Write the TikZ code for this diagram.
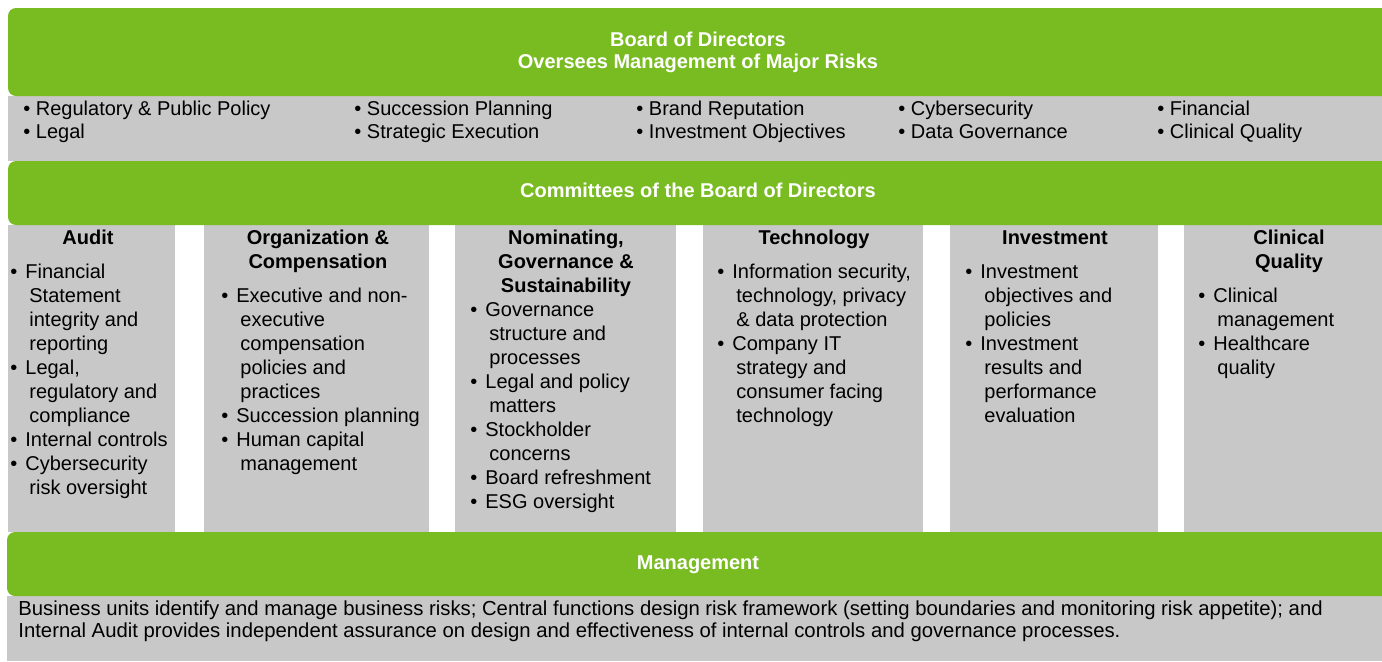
\documentclass[tikz,border=0pt]{standalone}
\usepackage{fontspec}
\setmainfont{Liberation Sans}

\definecolor{boardgreen}{RGB}{121,188,34}
\definecolor{panelgrey}{RGB}{200,200,200}

\newcommand{\bul}{\makebox[7.5pt][l]{•}}
\newcommand{\cont}{\hspace*{9.5pt}}

\begin{document}
\begin{tikzpicture}[x=0.5pt, y=-0.5pt,
    band/.style={fill=boardgreen, rounded corners=4pt},
    panel/.style={fill=panelgrey},
    title/.style={text=white, font=\bfseries\fontsize{10}{11}\selectfont, align=center, anchor=base, inner sep=0pt},
    head/.style={font=\bfseries\fontsize{10}{12}\selectfont, align=center, anchor=base, inner sep=0pt},
    items/.style={font=\fontsize{10}{12}\selectfont, align=left, anchor=base west, inner sep=0pt}]
  \useasboundingbox (0,0) rectangle (1382,661);
  \clip (0,0) rectangle (1382,661);

  % grey panels
  \fill[panel] (8,96) rectangle (1382,161);
  \fill[panel] (8,225) rectangle (175,532);
  \fill[panel] (204,225) rectangle (429,532);
  \fill[panel] (455,225) rectangle (676,532);
  \fill[panel] (703,225) rectangle (923,532);
  \fill[panel] (950,225) rectangle (1158,532);
  \fill[panel] (1184,225) rectangle (1382,532);
  \fill[panel] (7,596) rectangle (1382,661);

  % green bands
  \fill[band] (8,8) rectangle (1400,96);
  \fill[band] (8,161) rectangle (1400,225);
  \fill[band] (7,532) rectangle (1400,596);

  % multi-line nodes sit on the baseline of their last line
  \node[title] (board) at (698,68) {Board of Directors\\Oversees Management of Major Risks};
  \node[title] (cmte) at (698,197) {Committees of the Board of Directors};
  \node[title] (mgmt) at (698,569) {Management};

  % major risks
  \node[items, font=\fontsize{10}{11.5}\selectfont] (riskpolicy) at (23,138) {• Regulatory \& Public Policy\\• Legal};
  \node[items, font=\fontsize{10}{11.5}\selectfont] (riskplan) at (354,138) {• Succession Planning\\• Strategic Execution};
  \node[items, font=\fontsize{10}{11.5}\selectfont] (riskbrand) at (636,138) {• Brand Reputation\\• Investment Objectives};
  \node[items, font=\fontsize{10}{11.5}\selectfont] (riskcyber) at (898,138) {• Cybersecurity\\• Data Governance};
  \node[items, font=\fontsize{10}{11.5}\selectfont] (riskfin) at (1157,138) {• Financial\\• Clinical Quality};

  % committees
  \node[head] (audit) at (88,244) {Audit};
  \node[head] (orgcomp) at (318,268) {Organization \&\\Compensation};
  \node[head] (nomgov) at (566,292) {Nominating,\\Governance \&\\Sustainability};
  \node[head] (tech) at (814,244) {Technology};
  \node[head] (invest) at (1055,244) {Investment};
  \node[head] (clinq) at (1289,268) {Clinical\\Quality};

  \node[items] (auditlist) at (10,494) {\bul Financial\\\cont Statement\\\cont integrity and\\\cont reporting\\\bul Legal,\\\cont regulatory and\\\cont compliance\\\bul Internal controls\\\bul Cybersecurity\\\cont risk oversight};
  \node[items] (orgcomplist) at (221,470) {\bul Executive and non-\\\cont executive\\\cont compensation\\\cont policies and\\\cont practices\\\bul Succession planning\\\bul Human capital\\\cont management};
  \node[items] (nomgovlist) at (470,508) {\bul Governance\\\cont structure and\\\cont processes\\\bul Legal and policy\\\cont matters\\\bul Stockholder\\\cont concerns\\\bul Board refreshment\\\bul ESG oversight};
  \node[items] (techlist) at (717,422) {\bul Information security,\\\cont technology, privacy\\\cont \& data protection\\\bul Company IT\\\cont strategy and\\\cont consumer facing\\\cont technology};
  \node[items] (investlist) at (965,422) {\bul Investment\\\cont objectives and\\\cont policies\\\bul Investment\\\cont results and\\\cont performance\\\cont evaluation};
  \node[items] (clinqlist) at (1198,374) {\bul Clinical\\\cont management\\\bul Healthcare\\\cont quality};

  % management
  \node[items, font=\fontsize{10.15}{11}\selectfont] (mgmttext) at (18,637) {Business units identify and manage business risks; Central functions design risk framework (setting boundaries and monitoring risk appetite); and\\Internal Audit provides independent assurance on design and effectiveness of internal controls and governance processes.};
\end{tikzpicture}
\end{document}
